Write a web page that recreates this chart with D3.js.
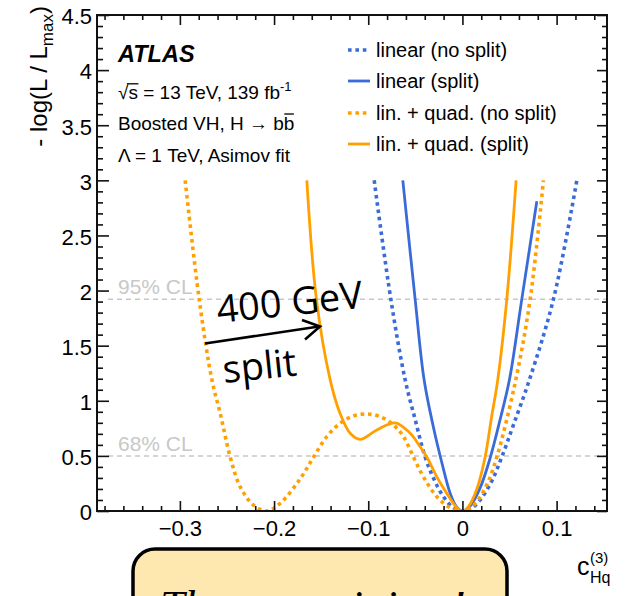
<!DOCTYPE html>
<html>
<head>
<meta charset="utf-8">
<script src="https://cdn.jsdelivr.net/npm/d3@7"></script>
<style>
  body { margin: 0; background: #fff; }
  svg { display: block; font-family: "Liberation Sans", Arial, Helvetica, sans-serif; }
</style>
</head>
<body>
<svg id="chart" width="625" height="596"></svg>
<script>
// Likelihood scans in c_Hq^(3): -log(L/Lmax) for the four fit setups
const linNoSplitC   = [-0.0937, -0.076, -0.0608, -0.0502, -0.0396, -0.0308, -0.0202, -0.0095, 0, 0.009, 0.0188, 0.031, 0.0418, 0.0541, 0.0711, 0.0966, 0.1215];
const linNoSplitNLL = [3.0, 1.92, 1.19, 0.83, 0.49, 0.30, 0.13, 0.028, 0, 0.022, 0.10, 0.27, 0.49, 0.78, 1.19, 1.92, 3.0];

const linSplitC   = [-0.0633, -0.0502, -0.0407, -0.0308, -0.0219, -0.013, -0.006, 0, 0.0082, 0.0188, 0.0294, 0.040, 0.0499, 0.063, 0.079];
const linSplitNLL = [3.0, 1.92, 1.19, 0.76, 0.44, 0.16, 0.035, 0, 0.045, 0.21, 0.48, 0.83, 1.19, 1.92, 2.81];

const quadNoSplitC   = [-0.2944, -0.2795, -0.266, -0.2572, -0.2466, -0.236, -0.2219, -0.2077, -0.1935, -0.1724, -0.158, -0.144, -0.1298, -0.1157, -0.1015, -0.0874, -0.0732, -0.0626, -0.052, -0.0414, -0.0272, -0.013, 0, 0.0117, 0.0259, 0.0365, 0.0559, 0.0719, 0.086];
const quadNoSplitNLL = [3.0, 1.92, 1.19, 0.887, 0.49, 0.22, 0.054, 0.0, 0.07, 0.29, 0.49, 0.675, 0.796, 0.862, 0.88, 0.856, 0.78, 0.675, 0.49, 0.31, 0.13, 0.03, 0, 0.05, 0.24, 0.49, 1.16, 1.92, 3.0];

const quadSplitC   = [-0.1652, -0.155, -0.1404, -0.130, -0.1192, -0.1086, -0.0909, -0.0714, -0.0555, -0.0449, -0.0378, -0.0272, -0.0166, -0.006, 0, 0.0064, 0.0153, 0.0241, 0.031, 0.0375, 0.0471, 0.057];
const quadSplitNLL = [3.0, 1.92, 1.19, 0.887, 0.705, 0.65, 0.735, 0.80, 0.705, 0.583, 0.49, 0.31, 0.16, 0.03, 0, 0.04, 0.2, 0.49, 0.856, 1.19, 1.92, 3.0];

const seriesLabels = ["linear (no split)", "linear (split)", "lin. + quad. (no split)", "lin. + quad. (split)"];

const xTicks = [-0.3, -0.2, -0.1, 0, 0.1];
const xTickLabels = ["\u22120.3", "\u22120.2", "\u22120.1", "0", "0.1"];
const yTicks = [0, 0.5, 1, 1.5, 2, 2.5, 3, 3.5, 4, 4.5];
const yTickLabels = ["0", "0.5", "1", "1.5", "2", "2.5", "3", "3.5", "4", "4.5"];

const clLevels = [0.5, 1.92];
const clLabels = ["68% CL", "95% CL"];

const BLUE = "#3a6bd9";
const ORANGE = "#ffa000";
const SANS = "'Liberation Sans', Arial, Helvetica, sans-serif";
const ANNOT = "'Open Sans', 'Noto Sans', sans-serif";
const SERIF = "'Liberation Serif', 'DejaVu Serif', serif";

const svg = d3.select("#chart");
const L = 97, R = 607, T = 15, B = 511;

const x = d3.scaleLinear().domain([-0.388, 0.1535]).range([L, R]);
const y = d3.scaleLinear().domain([0, 4.5]).range([B, T]);

svg.append("rect").attr("width", 625).attr("height", 596).attr("fill", "#fff");

svg.append("defs").append("clipPath").attr("id", "plotClip")
  .append("rect").attr("x", L).attr("y", T).attr("width", R - L).attr("height", B - T);

// Confidence level reference lines
const clG = svg.append("g");
clLevels.forEach((lv, i) => {
  clG.append("line")
    .attr("x1", L + 11).attr("x2", R)
    .attr("y1", y(lv)).attr("y2", y(lv))
    .attr("stroke", "#c8c8c8").attr("stroke-width", 1.5)
    .attr("stroke-dasharray", "5,4");
  clG.append("text")
    .attr("x", 118).attr("y", y(lv) - 5)
    .attr("font-size", 21).attr("fill", "#c8c8c8")
    .text(clLabels[i]);
});

// Curves
const series = [
  { c: linNoSplitC,  v: linNoSplitNLL,  color: BLUE,   dotted: true },
  { c: linSplitC,    v: linSplitNLL,    color: BLUE,   dotted: false },
  { c: quadNoSplitC, v: quadNoSplitNLL, color: ORANGE, dotted: true },
  { c: quadSplitC,   v: quadSplitNLL,   color: ORANGE, dotted: false }
];

const line = d3.line()
  .x(d => x(d[0]))
  .y(d => y(d[1]))
  .curve(d3.curveCatmullRom.alpha(0.5));

const curveG = svg.append("g").attr("clip-path", "url(#plotClip)");
series.forEach(s => {
  curveG.append("path")
    .datum(d3.zip(s.c, s.v))
    .attr("d", line)
    .attr("fill", "none")
    .attr("stroke", s.color)
    .attr("stroke-width", s.dotted ? 3.6 : 2.8)
    .attr("stroke-dasharray", s.dotted ? "3.6,3.8" : null)
    .attr("stroke-linejoin", "round");
});

// Axes with major and minor ticks on all four sides
const xMinor = d3.range(-0.38, 0.1501, 0.02).map(v => +v.toFixed(2)).filter(v => !xTicks.some(t => Math.abs(t - v) < 1e-6));
const yMinor = d3.range(0, 4.501, 0.1).map(v => +v.toFixed(1)).filter(v => !yTicks.some(t => Math.abs(t - v) < 1e-6));

function styleAxis(g) {
  g.select(".domain").remove();
  g.selectAll(".tick line").attr("stroke", "#111").attr("stroke-width", 1.6);
}

svg.append("g").attr("transform", `translate(0,${B})`)
  .call(d3.axisBottom(x).tickValues(xTicks).tickFormat((d, i) => xTickLabels[i])
    .tickSizeInner(-10).tickSizeOuter(0).tickPadding(9))
  .call(styleAxis)
  .call(g => g.selectAll("text").attr("font-size", 22).attr("fill", "#000").style("font-family", SANS));
svg.append("g").attr("transform", `translate(0,${B})`)
  .call(d3.axisBottom(x).tickValues(xMinor).tickFormat("").tickSizeInner(-5).tickSizeOuter(0))
  .call(styleAxis);

svg.append("g").attr("transform", `translate(0,${T})`)
  .call(d3.axisBottom(x).tickValues(xTicks).tickFormat("").tickSizeInner(10).tickSizeOuter(0))
  .call(styleAxis);
svg.append("g").attr("transform", `translate(0,${T})`)
  .call(d3.axisBottom(x).tickValues(xMinor).tickFormat("").tickSizeInner(5).tickSizeOuter(0))
  .call(styleAxis);

svg.append("g").attr("transform", `translate(${L},0)`)
  .call(d3.axisLeft(y).tickValues(yTicks).tickFormat((d, i) => yTickLabels[i])
    .tickSizeInner(-12).tickSizeOuter(0).tickPadding(5))
  .call(styleAxis)
  .call(g => g.selectAll("text").attr("font-size", 22).attr("fill", "#000").attr("dy", "0.4em").style("font-family", SANS));
svg.append("g").attr("transform", `translate(${L},0)`)
  .call(d3.axisLeft(y).tickValues(yMinor).tickFormat("").tickSizeInner(-6).tickSizeOuter(0))
  .call(styleAxis);

svg.append("g").attr("transform", `translate(${R},0)`)
  .call(d3.axisLeft(y).tickValues(yTicks).tickFormat("").tickSizeInner(10).tickSizeOuter(0))
  .call(styleAxis);
svg.append("g").attr("transform", `translate(${R},0)`)
  .call(d3.axisLeft(y).tickValues(yMinor).tickFormat("").tickSizeInner(5).tickSizeOuter(0))
  .call(styleAxis);

// Frame
svg.append("rect")
  .attr("x", L).attr("y", T).attr("width", R - L).attr("height", B - T)
  .attr("fill", "none").attr("stroke", "#111").attr("stroke-width", 2);

// Axis titles
const yTitle = svg.append("text")
  .attr("transform", "translate(47,6) rotate(-90)")
  .attr("text-anchor", "end")
  .attr("font-size", 24);
yTitle.append("tspan").text("- log(L / L");
yTitle.append("tspan").attr("font-size", 17).attr("dy", 6).text("max");
yTitle.append("tspan").attr("dy", -6).text(")");

svg.append("text").attr("x", 577).attr("y", 575).attr("font-size", 25).text("c");
svg.append("text").attr("x", 590).attr("y", 583).attr("font-size", 16).text("Hq");
svg.append("text").attr("x", 590).attr("y", 563).attr("font-size", 15).text("(3)");

// ATLAS label block
svg.append("text").attr("x", 118).attr("y", 62)
  .attr("font-size", 23.5).attr("font-weight", "bold").attr("font-style", "italic")
  .text("ATLAS");

const lumi = svg.append("text").attr("x", 118).attr("y", 99).attr("font-size", 19);
lumi.append("tspan").text("\u221As = 13 TeV, 139 fb");
lumi.append("tspan").attr("font-size", 13).attr("dy", -8).text("-1");
// radical bar over the s
{
  const tmp = svg.append("text").attr("font-size", 19).attr("x", -1000).attr("y", -1000).text("\u221A");
  const wRad = tmp.node().getComputedTextLength();
  tmp.text("\u221As");
  const wRs = tmp.node().getComputedTextLength();
  tmp.remove();
  svg.append("line").attr("x1", 118 + wRad - 1.5).attr("x2", 118 + wRs + 0.5)
    .attr("y1", 99 - 15.2).attr("y2", 99 - 15.2)
    .attr("stroke", "#000").attr("stroke-width", 1.3);
}

svg.append("text").attr("x", 118).attr("y", 130).attr("font-size", 19)
  .text("Boosted VH, H \u2192 bb");
// bar over the second b
{
  const tmp = svg.append("text").attr("font-size", 19).attr("x", -1000).attr("y", -1000).text("Boosted VH, H \u2192 b");
  const w1 = tmp.node().getComputedTextLength();
  tmp.text("Boosted VH, H \u2192 bb");
  const w2 = tmp.node().getComputedTextLength();
  tmp.remove();
  svg.append("line").attr("x1", 118 + w1 + 0.5).attr("x2", 118 + w2 - 0.5)
    .attr("y1", 130 - 16).attr("y2", 130 - 16)
    .attr("stroke", "#000").attr("stroke-width", 1.3);
}

svg.append("text").attr("x", 118).attr("y", 162).attr("font-size", 19)
  .text("\u039B = 1 TeV, Asimov fit");

// Legend
const legY = [50, 81, 113, 144];
series.forEach((s, i) => {
  svg.append("line")
    .attr("x1", 348).attr("x2", 370)
    .attr("y1", legY[i]).attr("y2", legY[i])
    .attr("stroke", s.color)
    .attr("stroke-width", s.dotted ? 3.6 : 2.8)
    .attr("stroke-dasharray", s.dotted ? "3.6,3.8" : null);
  svg.append("text")
    .attr("x", 376).attr("y", legY[i] + 7)
    .attr("font-size", 20)
    .text(seriesLabels[i]);
});

// Annotation: 400 GeV split with arrow
const ann = svg.append("g");
ann.append("text")
  .attr("transform", "translate(218,323) rotate(-6)")
  .attr("font-size", 38).style("font-family", ANNOT)
  .text("400 GeV");
ann.append("text")
  .attr("transform", "translate(224,383) rotate(-6)")
  .attr("font-size", 38).style("font-family", ANNOT)
  .text("split");
ann.append("line")
  .attr("x1", 205).attr("y1", 343.5).attr("x2", 319).attr("y2", 326.5)
  .attr("stroke", "#000").attr("stroke-width", 2.6);
ann.append("path")
  .attr("d", "M302,320 L320,326.5 L305,339.5")
  .attr("fill", "none").attr("stroke", "#000").attr("stroke-width", 2.6)
  .attr("stroke-linejoin", "miter");

// Callout box at the bottom
svg.append("rect")
  .attr("x", 133).attr("y", 549).attr("width", 374).attr("height", 120)
  .attr("rx", 22).attr("ry", 22)
  .attr("fill", "#fee8b0").attr("stroke", "#000").attr("stroke-width", 3.5);
svg.append("text")
  .attr("x", 160).attr("y", 621)
  .attr("font-size", 44).attr("font-style", "italic")
  .style("font-family", SERIF)
  .text("The new minima!");
</script>
</body>
</html>
